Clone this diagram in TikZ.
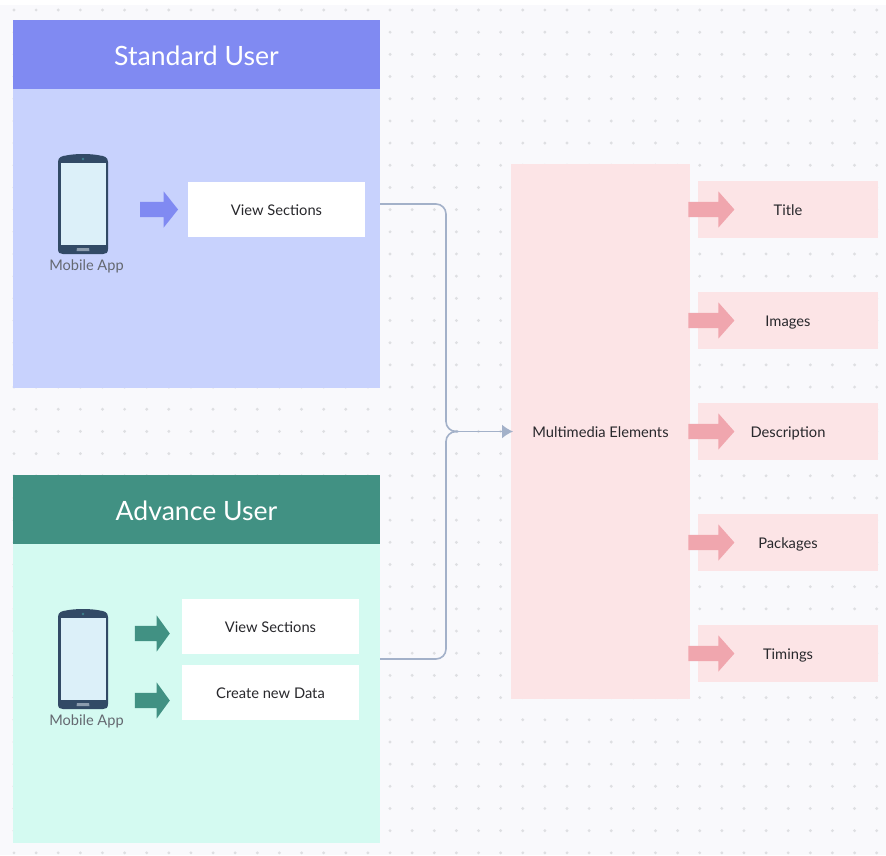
\documentclass[tikz,border=0pt]{standalone}
\usepackage{fontspec}
\setmainfont{Lato}
\usetikzlibrary{arrows.meta}
\usetikzlibrary{shapes.arrows}
\definecolor{pagebg}{RGB}{249,249,252}
\definecolor{griddot}{RGB}{222,223,226}
\definecolor{stdhead}{RGB}{128,138,242}
\definecolor{stdbody}{RGB}{200,210,253}
\definecolor{advhead}{RGB}{65,145,131}
\definecolor{advbody}{RGB}{212,250,241}
\definecolor{pinkbox}{RGB}{252,228,230}
\definecolor{pinkarrow}{RGB}{240,166,174}
\definecolor{linkline}{RGB}{163,177,201}
\definecolor{phonebody}{RGB}{50,74,102}
\definecolor{phonescreen}{RGB}{220,240,249}
\definecolor{phonebutton}{RGB}{140,156,174}
\definecolor{phonecam}{RGB}{60,130,140}
\definecolor{labeltext}{RGB}{40,40,44}
\definecolor{phonetext}{RGB}{100,104,112}
% phone drawn from its top edge
\newcommand{\mobilephone}[1]{
\begin{scope}[yshift=#1 pt]
\fill[phonebody] (58,162) .. controls (58,157) and (62,156) .. (66,155.5) .. controls (75,153.5) and (91,153.5) .. (100,155.5) .. controls (104,156) and (108,157) .. (108,162) -- (108,249) .. controls (108,253) and (106,254) .. (103,254) -- (63,254) .. controls (60,254) and (58,253) .. (58,249) -- cycle;
\fill[phonescreen] (60.5,162.5) rectangle (106,245);
\fill[phonecam] (83,159) circle (1.3);
\fill[phonebutton] (77,248) -- (89,248) -- (89.5,251) -- (76.5,251) -- cycle;
\end{scope}}

\begin{document}
\begin{tikzpicture}[x=1pt,y=-1pt,>={Latex[length=11pt,width=14pt]},
panel/.style={rectangle,inner sep=0pt,outer sep=0pt,text=white,text height=21pt,text depth=0pt,font=\fontsize{26.6}{30}\selectfont},
whitebox/.style={rectangle,fill=white,inner sep=0pt,outer sep=0pt,text=labeltext,text height=11pt,text depth=0pt,font=\fontsize{14.7}{18}\selectfont},
pinkitem/.style={whitebox,fill=pinkbox,minimum width=180pt,minimum height=57pt},
fatarrow/.style n args={3}{single arrow,fill=#1,inner sep=0pt,outer sep=0pt,minimum width=36pt,minimum height=#2,single arrow head extend=10.5pt,single arrow tip angle=#3,inner ysep=7.5pt},
applabel/.style={inner sep=0pt,text=phonetext,font=\fontsize{14.6}{18}\selectfont}]
\useasboundingbox (0,0) rectangle (886,855);
\fill[pagebg] (0,5) rectangle (886,855);

% dots
\foreach \i in {0,...,39}
  \foreach \j in {0,...,38}
    \fill[griddot] ({14+22.12*\i},{10+22.18*\j}) circle (1.6);

% standard user panel
\node [panel,fill=stdbody,minimum width=367pt,minimum height=299pt] (stdpanel) at (196.5,238.5) {};
\node [panel,fill=stdhead,minimum width=367pt,minimum height=69pt] (stdtitle) at (196.5,54.5) {Standard User};
\node [whitebox,minimum width=177pt,minimum height=55pt] (stdview) at (276.5,209.5) {View Sections};
\node [fatarrow={stdhead}{38pt}{103}] (stdarrow) at (156,209.5) {};
\mobilephone{0}
\node [applabel] (stdapp) at (86.5,266.5) {Mobile App};

% advance user panel
\node [panel,fill=advbody,minimum width=367pt,minimum height=299pt] (advpanel) at (196.5,693.5) {};
\node [panel,fill=advhead,minimum width=367pt,minimum height=69pt] (advtitle) at (196.5,509.5) {Advance User};
\node [whitebox,minimum width=177pt,minimum height=55pt] (advview) at (270.5,626.5) {View Sections};
\node [whitebox,minimum width=177pt,minimum height=55pt] (advcreate) at (270.5,692.5) {Create new Data};
\node [fatarrow={advhead}{35pt}{108}] (advarrowa) at (149.5,633.5) {};
\node [fatarrow={advhead}{35pt}{108}] (advarrowb) at (149.5,700.5) {};
\mobilephone{-455}
\node [applabel] (advapp) at (86.5,721.5) {Mobile App};

% multimedia box and items
\node [whitebox,fill=pinkbox,minimum width=179pt,minimum height=535pt] (multimedia) at (600.5,431.5) {Multimedia Elements};
\node [pinkitem] (title) at (788,209.5) {Title};
\node [pinkitem] (images) at (788,320.5) {Images};
\node [pinkitem] (description) at (788,431.5) {Description};
\node [pinkitem] (packages) at (788,542.5) {Packages};
\node [pinkitem] (timings) at (788,653.5) {Timings};
\node [fatarrow={pinkarrow}{46pt}{97}] (titlearrow) at (708,209.5) {};
\node [fatarrow={pinkarrow}{46pt}{97}] (imagesarrow) at (708,320.5) {};
\node [fatarrow={pinkarrow}{46pt}{97}] (descarrow) at (708,431.5) {};
\node [fatarrow={pinkarrow}{46pt}{97}] (packagesarrow) at (708,542.5) {};
\node [fatarrow={pinkarrow}{46pt}{97}] (timingsarrow) at (708,653.5) {};

% links
\coordinate (stdout) at (380,204);
\coordinate (advout) at (380,659);
\coordinate (merge) at (458,431.5);
\draw [linkline,line width=1.6pt,rounded corners=10pt] (stdout) -- (446,204) -- (446,431.5) -- (merge);
\draw [linkline,line width=1.6pt,rounded corners=10pt] (advout) -- (446,659) -- (446,431.5) -- (merge);
\draw [->,linkline,line width=1.6pt,shorten >=-2pt] (merge) -- (multimedia.west);
\end{tikzpicture}
\end{document}
